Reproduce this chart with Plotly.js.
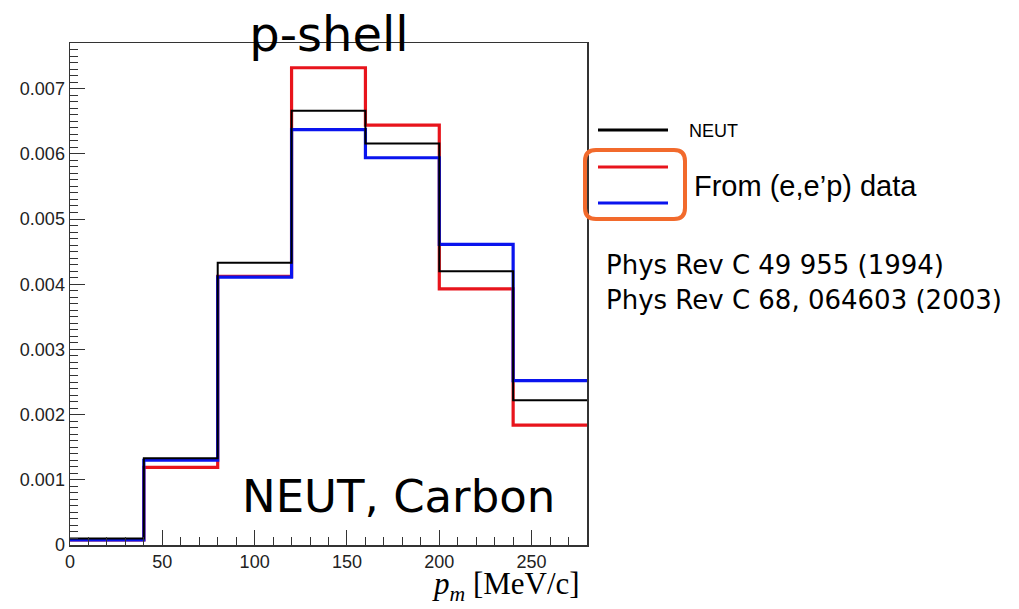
<!DOCTYPE html>
<html>
<head>
<meta charset="utf-8">
<script src="https://cdn.plot.ly/plotly-3.0.1.min.js"></script>
<style>html,body{margin:0;padding:0;background:#fff}#chart{width:1019px;height:609px}</style>
</head>
<body>
<div id="chart"></div>
<script>
// Bin edges of p_m [MeV/c]
const binEdges = [0, 40, 80, 120, 160, 200, 240, 280];
// Bin contents
const neutValues = [0.00010, 0.00133, 0.00433, 0.00666, 0.00616, 0.00420, 0.00222];
const eepRedValues = [0.00008, 0.00119, 0.00412, 0.00732, 0.00644, 0.00393, 0.00184];
const eepBlueValues = [0.00008, 0.00130, 0.00411, 0.00637, 0.00594, 0.00461, 0.00252];

const titleText = "p-shell";
const innerLabel = "NEUT, Carbon";
const legendNeut = "NEUT";
const legendData = "From (e,e’p) data";
const refLines = ["Phys Rev C 49 955 (1994)", "Phys Rev C 68, 064603 (2003)"];

function stepY(v) { return v.concat([v[v.length - 1]]); }

const traces = [
  {x: binEdges, y: stepY(eepRedValues), mode: 'lines', line: {shape: 'hv', color: '#e8141c', width: 3.2}, name: 'red', showlegend: false, hoverinfo: 'skip'},
  {x: binEdges, y: stepY(eepBlueValues), mode: 'lines', line: {shape: 'hv', color: '#0a14ee', width: 3.2}, name: 'blue', showlegend: false, hoverinfo: 'skip'},
  {x: binEdges, y: stepY(neutValues), mode: 'lines', line: {shape: 'hv', color: '#000000', width: 2}, name: legendNeut, showlegend: false, hoverinfo: 'skip'}
];

// plot-area pixel geometry (for paper-coordinate decorations)
const L = 70, R = 587, T = 43, B = 545;
const px = p => (p - L) / (R - L);
const py = p => (B - p) / (B - T);

function roundRect(x0, y0, x1, y1, r) {
  const X = v => px(v).toFixed(5), Y = v => py(v).toFixed(5);
  return 'M' + X(x0 + r) + ',' + Y(y0) +
    ' L' + X(x1 - r) + ',' + Y(y0) +
    ' Q' + X(x1) + ',' + Y(y0) + ' ' + X(x1) + ',' + Y(y0 + r) +
    ' L' + X(x1) + ',' + Y(y1 - r) +
    ' Q' + X(x1) + ',' + Y(y1) + ' ' + X(x1 - r) + ',' + Y(y1) +
    ' L' + X(x0 + r) + ',' + Y(y1) +
    ' Q' + X(x0) + ',' + Y(y1) + ' ' + X(x0) + ',' + Y(y1 - r) +
    ' L' + X(x0) + ',' + Y(y0 + r) +
    ' Q' + X(x0) + ',' + Y(y0) + ' ' + X(x0 + r) + ',' + Y(y0) + ' Z';
}

const shapes = [
  {type: 'line', xref: 'paper', yref: 'paper', x0: px(598), x1: px(668), y0: py(130), y1: py(130), line: {color: '#000', width: 3}},
  {type: 'line', xref: 'paper', yref: 'paper', x0: px(598), x1: px(668), y0: py(167), y1: py(167), line: {color: '#e8141c', width: 3}},
  {type: 'line', xref: 'paper', yref: 'paper', x0: px(598), x1: px(668), y0: py(203), y1: py(203), line: {color: '#0a14ee', width: 3}},
  {type: 'path', xref: 'paper', yref: 'paper', path: roundRect(585, 150, 685, 219, 11), line: {color: '#f26a2c', width: 4}}
];

const annotations = [
  {text: innerLabel, xref: 'paper', yref: 'paper', x: px(240), y: py(496), xanchor: 'left', yanchor: 'middle', showarrow: false, font: {family: 'DejaVu Sans', size: 45, color: '#000'}},
  {text: legendNeut, xref: 'paper', yref: 'paper', x: px(687), y: py(131), xanchor: 'left', yanchor: 'middle', showarrow: false, font: {family: 'Liberation Sans, Arial', size: 18, color: '#000'}},
  {text: legendData, xref: 'paper', yref: 'paper', x: px(692), y: py(186), xanchor: 'left', yanchor: 'middle', showarrow: false, font: {family: 'Liberation Sans, Arial', size: 29, color: '#000'}},
  {text: refLines[0], xref: 'paper', yref: 'paper', x: px(604), y: py(265), xanchor: 'left', yanchor: 'middle', showarrow: false, font: {family: 'DejaVu Sans', size: 26, color: '#000'}},
  {text: refLines[1], xref: 'paper', yref: 'paper', x: px(604), y: py(300), xanchor: 'left', yanchor: 'middle', showarrow: false, font: {family: 'DejaVu Sans', size: 26, color: '#000'}},
  {text: '<i>p</i><sub><i>m</i></sub> [MeV/c]', xref: 'paper', yref: 'paper', x: px(581), y: py(607), xanchor: 'right', yanchor: 'bottom', borderpad: 0, showarrow: false, font: {family: 'Liberation Serif, Times New Roman, serif', size: 31, color: '#000'}}
];

const layout = {
  width: 1019, height: 609,
  paper_bgcolor: '#fff', plot_bgcolor: '#fff',
  margin: {l: L, r: 1019 - R, t: T, b: 609 - B, pad: 0},
  showlegend: false,
  title: {text: titleText, xref: 'paper', x: px(329), xanchor: 'center', yref: 'container', y: 1 - 34 / 609, yanchor: 'middle', font: {family: 'DejaVu Sans', size: 48, color: '#000'}},
  xaxis: {
    range: [0, 280], dtick: 50, tick0: 0,
    ticks: 'inside', ticklen: 15, tickwidth: 1, tickcolor: '#333',
    minor: {dtick: 10, ticks: 'inside', ticklen: 8, tickcolor: '#333'},
    showline: true, mirror: true, linecolor: '#333', linewidth: 1.5,
    showgrid: false, zeroline: false,
    tickfont: {family: 'Liberation Sans, Arial', size: 18, color: '#222'}
  },
  yaxis: {
    range: [0, 0.0077], dtick: 0.001, tick0: 0,
    ticks: 'inside', ticklen: 15, tickwidth: 1, tickcolor: '#333',
    minor: {dtick: 0.0001, ticks: 'inside', ticklen: 8, tickcolor: '#333'},
    showline: true, mirror: true, linecolor: '#333', linewidth: 1.5,
    showgrid: false, zeroline: false,
    tickfont: {family: 'Liberation Sans, Arial', size: 18, color: '#222'}
  },
  shapes: shapes,
  annotations: annotations
};

Plotly.newPlot('chart', traces, layout, {displayModeBar: false, staticPlot: true});
</script>
</body>
</html>
